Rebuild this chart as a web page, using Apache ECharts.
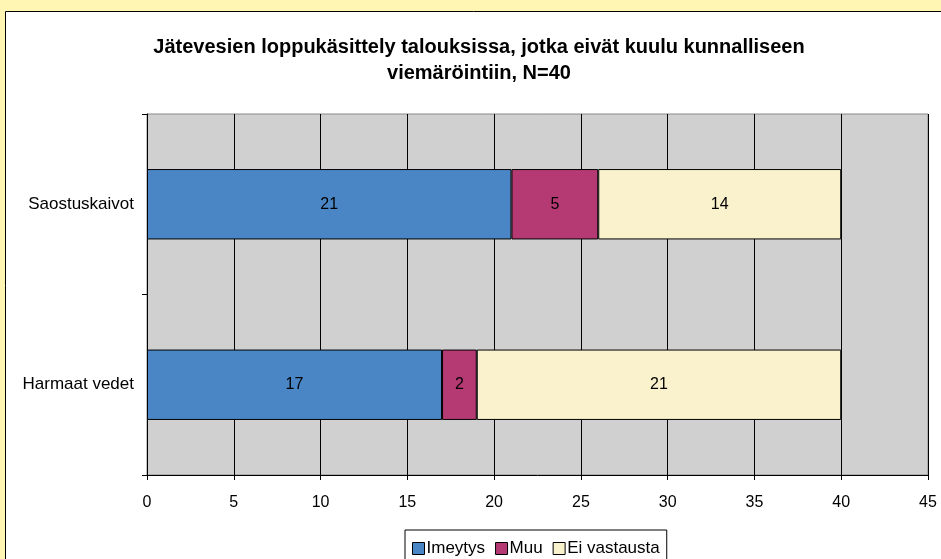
<!DOCTYPE html>
<html>
<head>
<meta charset="utf-8" />
<title>Jätevesien loppukäsittely</title>
<script src="https://cdn.jsdelivr.net/npm/echarts@6/dist/echarts.min.js"></script>
<style>
  html, body { margin: 0; padding: 0; background: #FFF6B3; }
  #chart { width: 941px; height: 559px; }
</style>
</head>
<body>
<div id="chart"></div>
<script>
  // kategoriat ja sarjat
  var categories = ['Saostuskaivot', 'Harmaat vedet'];
  var imeytys = [21, 17];
  var muu = [5, 2];
  var eiVastausta = [14, 21];
  var seriesNames = ['Imeytys', 'Muu', 'Ei vastausta'];
  var otsikko = 'Jätevesien loppukäsittely talouksissa, jotka eivät kuulu kunnalliseen\nviemäröintiin, N=40';

  var chart = echarts.init(document.getElementById('chart'));

  function barSeries(name, data, color) {
    return {
      name: name,
      type: 'bar',
      stack: 'yht',
      data: data,
      barWidth: '39%',
      itemStyle: { color: color, borderColor: '#000', borderWidth: 1 },
      label: {
        show: true,
        position: 'inside',
        color: '#000',
        fontSize: 16,
        fontFamily: 'Liberation Sans, Arial, sans-serif'
      }
    };
  }

  var option = {
    animation: false,
    backgroundColor: '#FFF6B3',
    textStyle: { fontFamily: 'Liberation Sans, Arial, sans-serif' },
    graphic: [{
      type: 'rect',
      z: -10,
      shape: { x: 5.5, y: 11.5, width: 950, height: 560 },
      style: { fill: '#fff', stroke: '#000', lineWidth: 1 }
    }, {
      // otsikko
      type: 'text',
      x: 479,
      y: 34,
      style: {
        text: otsikko,
        align: 'center',
        verticalAlign: 'top',
        fill: '#000',
        fontSize: 20,
        fontWeight: 'bold',
        lineHeight: 26,
        fontFamily: 'Liberation Sans, Arial, sans-serif'
      }
    }],
    legend: {
      data: seriesNames,
      left: 405,
      top: 530,
      itemWidth: 12,
      itemHeight: 12,
      itemGap: 10,
      icon: 'rect',
      padding: [10, 7, 6, 7],
      borderColor: '#000',
      borderWidth: 1,
      backgroundColor: '#fff',
      textStyle: { fontSize: 17, color: '#000', padding: [0, 0, 0, -3] },
      itemStyle: { borderColor: '#000', borderWidth: 1 }
    },
    grid: {
      left: 147,
      right: 13,
      top: 114,
      bottom: 84,
      show: true,
      backgroundColor: '#D0D0D0',
      borderColor: '#888',
      borderWidth: 1
    },
    xAxis: {
      type: 'value',
      min: 0,
      max: 45,
      interval: 5,
      axisLine: { show: true, lineStyle: { color: '#000' } },
      axisTick: { show: true, length: 5, lineStyle: { color: '#000' } },
      axisLabel: { fontSize: 16, color: '#000', margin: 20 },
      splitLine: { show: true, lineStyle: { color: '#000', width: 1 } }
    },
    yAxis: {
      type: 'category',
      data: categories,
      inverse: true,
      axisLine: { show: true, lineStyle: { color: '#000' } },
      axisTick: { show: true, length: 5, lineStyle: { color: '#000' } },
      axisLabel: { fontSize: 17, color: '#000', margin: 13 },
      splitLine: { show: false }
    },
    series: [
      barSeries(seriesNames[0], imeytys, '#4A86C5'),
      barSeries(seriesNames[1], muu, '#B53A73'),
      barSeries(seriesNames[2], eiVastausta, '#FAF2CC')
    ]
  };

  chart.setOption(option);
</script>
</body>
</html>
